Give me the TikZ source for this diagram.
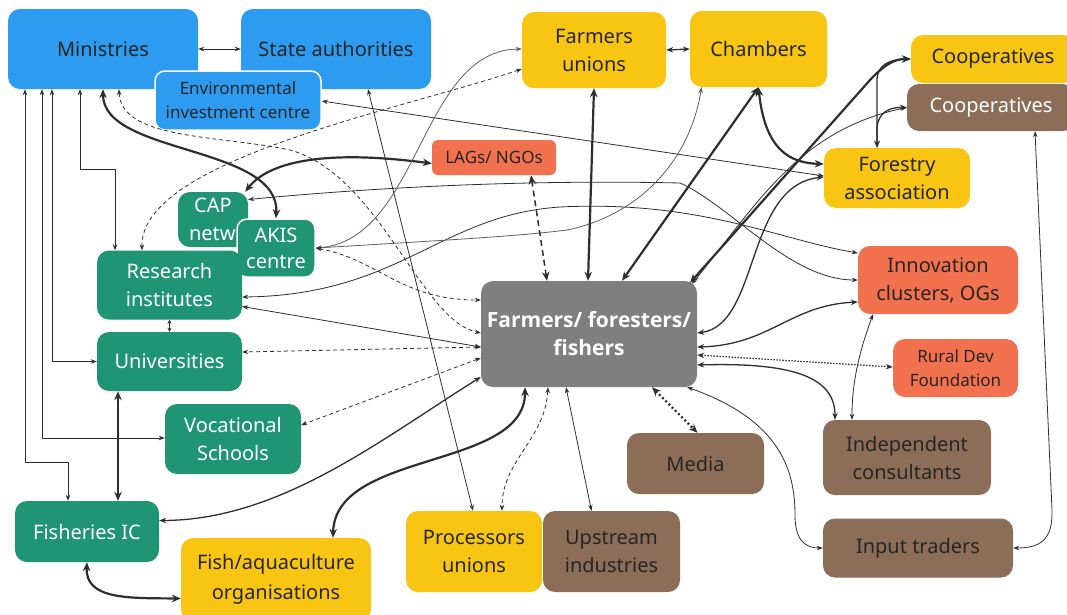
\documentclass[tikz,border=0pt]{standalone}
\usepackage{fontspec}
\setmainfont{Noto Sans}
\newfontfamily\fbfont{Open Sans}
\usetikzlibrary{arrows.meta,calc}
\definecolor{cblue}{HTML}{2D9BEF}
\definecolor{cgreen}{HTML}{1F9574}
\definecolor{cyellow}{HTML}{F8C513}
\definecolor{corange}{HTML}{F2724F}
\definecolor{cbrown}{HTML}{8C6D57}
\definecolor{cgray}{HTML}{7F7F7F}
\definecolor{ctext}{HTML}{262626}
\definecolor{cline}{HTML}{2E2E2E}
\definecolor{clight}{HTML}{5E5E5E}
\begin{document}
\begin{tikzpicture}[x=1pt,y=-1pt,
  box/.style={rounded corners=12pt,align=center,inner sep=0pt,font=\fontsize{20}{28}\selectfont,text=ctext},
  sz/.style 2 args={minimum width=#1pt,minimum height=#2pt},
  small/.style={font=\fontsize{17}{24}\selectfont},
  tn/.style={draw=cline,line width=0.8pt,{Stealth[length=6pt,width=4.5pt]}-{Stealth[length=6pt,width=4.5pt]}},
  tnl/.style={tn,draw=clight},
  tnd/.style={tn,dash pattern=on 4pt off 3pt},
  md/.style={draw=cline,line width=1.3pt,{Stealth[length=7pt,width=5.5pt]}-{Stealth[length=7pt,width=5.5pt]}},
  mdo/.style={md,line width=1.2pt,dash pattern=on 1.5pt off 1.5pt},
  tk/.style={draw=cline,line width=2.2pt,{Stealth[length=9pt,width=7.5pt]}-{Stealth[length=9pt,width=7.5pt]}},
  tkd/.style={tk,line width=1.5pt,dash pattern=on 6pt off 4pt},
  tko/.style={tk,dash pattern=on 2pt off 2.5pt},
]
\useasboundingbox (0,0) rectangle (1067,614);
% nodes
\node[box,fill=cblue,sz={190}{80}] (min) at (103,49) {Ministries};
\node[box,fill=cblue,sz={190}{80}] (sta) at (336,49) {State authorities};
\node[box,small,fill=cblue,draw=white,line width=1.5pt,rounded corners=10pt,sz={166}{59}] (env) at (238,100.5) {Environmental\\investment centre};
\node[box,fill=cyellow,sz={144}{76}] (fu) at (594,50) {Farmers\\unions};
\node[box,fill=cyellow,sz={137}{76}] (cha) at (758.5,49) {Chambers};
\node[box,fill=cyellow,sz={164}{48}] (coy) at (993,59) {\raisebox{-2pt}{Cooperatives}};
\node[box,fill=cbrown,text=white,sz={168}{47}] (cob) at (991,107.5) {\raisebox{-2pt}{Cooperatives}};
\node[box,fill=cyellow,sz={146}{60}] (fa) at (897,178) {Forestry\\association};
\node[box,small,fill=corange,rounded corners=6pt,sz={124}{35}] (lag) at (494,157.5) {LAGs/ NGOs};
\node[box,fill=cgreen,text=white,sz={70}{55}] (cap) at (213,219.5) {CAP\\\makebox[0pt][l]{\hspace{-24pt}netw}};
\node[box,fill=cgreen,text=white,draw=white,line width=1.5pt,rounded corners=10pt,sz={78}{58},font=\fontsize{20}{26}\selectfont] (aki) at (276,248) {AKIS\\centre};
\node[box,fill=cgreen,text=white,sz={145}{69}] (res) at (169.5,285) {Research\\institutes};
\node[box,fill=cgreen,text=white,sz={145}{59}] (uni) at (169.5,361.5) {Universities};
\node[box,fill=cgreen,text=white,sz={136}{70}] (voc) at (233,439) {Vocational\\Schools};
\node[box,fill=cgreen,text=white,sz={144}{61}] (fic) at (87,531.5) {Fisheries IC};
\node[box,fill=cyellow,sz={190}{83},font=\fontsize{20}{30}\selectfont] (fish) at (276,579.5) {Fish/aquaculture\\organisations};
\node[box,fill=cyellow,sz={136}{81}] (pro) at (474,551.5) {Processors\\unions};
\node[box,fill=cbrown,sz={137}{81}] (ups) at (611.5,551.5) {Upstream\\industries};
\node[box,fill=cbrown,sz={137}{61}] (med) at (695.5,463.5) {Media};
\node[box,fill=cgray,text=white,sz={216}{106},font=\fontsize{21}{28}\fbfont\bfseries] (far) at (589,334) {Farmers/ foresters/\\fishers};
\node[box,fill=corange,sz={160}{68}] (inn) at (938,280) {Innovation\\clusters, OGs};
\node[box,small,fill=corange,sz={125}{58}] (rdf) at (955.5,368) {Rural Dev\\Foundation};
\node[box,fill=cbrown,sz={168}{75}] (ind) at (907,457.5) {Independent\\consultants};
\node[box,fill=cbrown,sz={190}{59}] (inp) at (918,548) {Input traders};
% connectors: Ministries
\draw[tn] (min.east) -- (sta.west);
\draw[tn] ($(min.south)+(-78,0)$) |- ($(fic.north)+(-19,-38)$) -- ($(fic.north)+(-19,0)$);
\draw[tn] ($(min.south)+(-61,0)$) |- ($(voc.west)+(0,-1)$);
\draw[tn] ($(min.south)+(-51,0)$) |- (uni.west);
\draw[tn] ($(min.south)+(-23,0)$) |- ($(res.north)+(-54.5,-81)$) -- ($(res.north)+(-54.5,0)$);
\draw[tk] (min.south) .. controls (103,155) and (280,145) .. (aki.north);
\draw[tnd] ($(min.south)+(16,0)$) .. controls (121,140) and (220,135) .. (290,150) .. controls (380,175) and (420,320) .. ($(far.west)+(0,-1)$);
% left cluster
\draw[tnd] ($(res.north)+(-27.5,0)$) .. controls (140,160) and (400,110) .. ($(fu.west)+(0,19)$);
\draw[tk] ($(cap.north east)+(-3,0)$) .. controls (270,160) and (330,150) .. ($(lag.west)+(0,6)$);
\draw[tn] ($(cap.east)+(0,-20)$) .. controls (400,185) and (550,180) .. (680,183) .. controls (730,205) and (790,280) .. (inn.west);
\draw[tn] ($(res.east)+(0,12)$) .. controls (400,295) and (440,215) .. (560,207) .. controls (700,200) and (780,240) .. ($(inn.west)+(0,-27)$);
\draw[tnl] (aki.east) .. controls (450,240) and (520,236) .. (567,230) .. controls (640,215) and (690,160) .. ($(cha.south)+(-57,0)$);
\draw[tnl] (aki.east) .. controls (420,240) and (420,50) .. ($(fu.west)+(0,-1)$);
\draw[tnd] (aki.east) .. controls (380,260) and (400,300) .. ($(far.west)+(0,-34)$);
\draw[tn] ($(sta.south)+(32,0)$) -- ($(pro.north)+(-1,0)$);
\draw[tn] ($(env.east)+(0,0.5)$) -- ($(fa.west)+(0,-2)$);
% top right
\draw[md] (fu.east) -- (cha.west);
\draw[tk] (cha.south) .. controls (765,150) and (790,163) .. ($(fa.west)+(0,-14)$);
\draw[tk] ($(far.north)+(33,0)$) -- (cha.south);
\draw[tk] ($(far.north)+(-1,0)$) -- (fu.south);
\draw[tkd] ($(lag.south)+(37,0)$) -- ($(far.north)+(-42,0)$);
\draw[tk] ($(far.north)+(101,2)$) -- (870,80) .. controls (885,64) and (895,59) .. (coy.west);
\draw[tn] ($(far.north)+(103,3)$) .. controls (760,200) and (800,130) .. (cob.west);
\draw[md] ($(fa.north)+(-20,0)$) -- (877,80) .. controls (877,65) and (890,59) .. (coy.west);
\draw[md] ($(fa.north)+(-20,0)$) -- (877,128) .. controls (878,112) and (890,107) .. (cob.west);
% right side
\draw[md] ($(far.east)+(0,-1)$) .. controls (760,325) and (745,185) .. ($(fa.west)+(0,-1)$);
\draw[md] ($(far.east)+(0,13)$) .. controls (770,345) and (790,305) .. ($(inn.west)+(0,22)$);
\draw[mdo] ($(far.east)+(0,21)$) -- ($(rdf.west)+(0,-1)$);
\draw[md] ($(far.east)+(0,31)$) .. controls (800,362) and (835,380) .. ($(ind.north)+(-72,0)$);
\draw[tn] ($(inn.south)+(-65,0)$) .. controls (860,350) and (852,380) .. ($(ind.north)+(-55,0)$);
\draw[tn] ($(far.south east)+(-10,0)$) .. controls (780,420) and (795,470) .. (795,515) .. controls (795,540) and (805,548) .. (inp.west);
\draw[tn] ($(cob.south)+(44,0)$) -- (1052,510) .. controls (1053,540) and (1040,548) .. (inp.east);
% bottom
\draw[tko] ($(far.south)+(63,0)$) -- ($(med.north)+(2,0)$);
\draw[tn] ($(far.south)+(-23,0)$) -- ($(ups.north)+(-20,0)$);
\draw[tnd] ($(far.south)+(-41,0)$) .. controls (545,440) and (502,460) .. ($(pro.north)+(28,0)$);
\draw[tk] ($(far.south)+(-64,0)$) .. controls (525,470) and (335,450) .. ($(fish.north)+(57,0)$);
\draw[md] ($(far.west)+(0,43)$) .. controls (380,440) and (280,520) .. ($(fic.east)+(0,-11)$);
\draw[tnd] ($(far.west)+(0,24)$) -- ($(voc.east)+(0,-14)$);
\draw[tnd] ($(far.west)+(0,13)$) -- ($(uni.east)+(0,-9.5)$);
\draw[tn] ($(far.west)+(0,13)$) -- ($(res.east)+(0,21.5)$);
\draw[draw=cline,line width=0.8pt,{Stealth[length=4pt,width=4pt]}-{Stealth[length=4pt,width=4pt]}] (res.south) -- (uni.north);
\draw[tk] ($(uni.south)+(-51.5,0)$) -- ($(fic.north)+(31,0)$);
\draw[tk] (fic.south) .. controls (85,600) and (130,598) .. ($(fish.west)+(0,19)$);
\end{tikzpicture}
\end{document}
